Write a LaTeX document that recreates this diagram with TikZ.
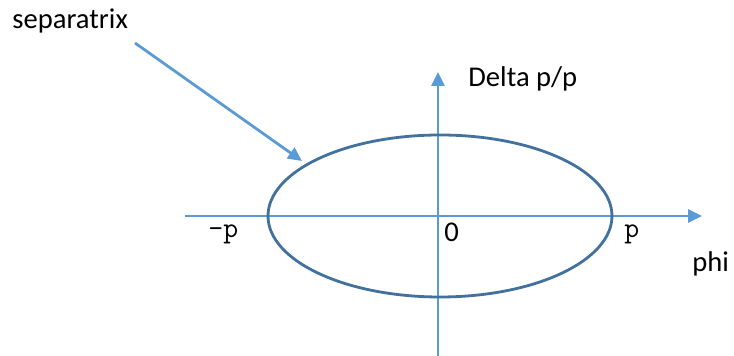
\documentclass[tikz,border=0pt]{standalone}
\usepackage{fontspec}
\setmainfont{Carlito}
\usetikzlibrary{arrows.meta}
\definecolor{axisblue}{RGB}{91,155,213}
\definecolor{curveblue}{RGB}{65,113,156}
\begin{document}
\begin{tikzpicture}[x=0.5pt, y=-0.5pt,
    axis/.style={draw=axisblue, line width=1.4pt, -{Triangle[length=7pt, width=6.5pt]}},
    curve/.style={draw=curveblue, line width=1.4pt},
    lbl/.style={font=\fontsize{14.3}{17}\selectfont, inner sep=0pt, anchor=base west},
    ticklbl/.style={font=\ttfamily\fontsize{14.5}{17}\selectfont, inner sep=0pt, anchor=base west}
  ]
  \useasboundingbox (0,0) rectangle (734,356);
  % axes
  \coordinate (xstart) at (185,216);
  \coordinate (xend) at (702,216);
  \coordinate (ystart) at (438,356);
  \coordinate (yend) at (438,72);
  \draw[axis] (xstart) -- (xend);
  \draw[axis] (ystart) -- (yend);
  % separatrix
  \draw[curve] (440,216) ellipse [x radius=172, y radius=81];
  \node[lbl] (seplbl) at (12,29) {separatrix};
  \coordinate (septail) at (135,43);
  \coordinate (septip) at (302,161);
  \draw[axis] (septail) -- (septip);
  % labels
  \node[lbl] (ylbl) at (468,87) {Delta p/p};
  \node[lbl] (xlbl) at (692,272) {phi};
  \node[lbl] (zero) at (444,242) {0};
  \foreach \name/\x/\txt in {mpi/208/{-p}, ppi/624/{p}} {
    \node[ticklbl] (\name) at (\x,238) {\txt};
  }
\end{tikzpicture}
\end{document}
